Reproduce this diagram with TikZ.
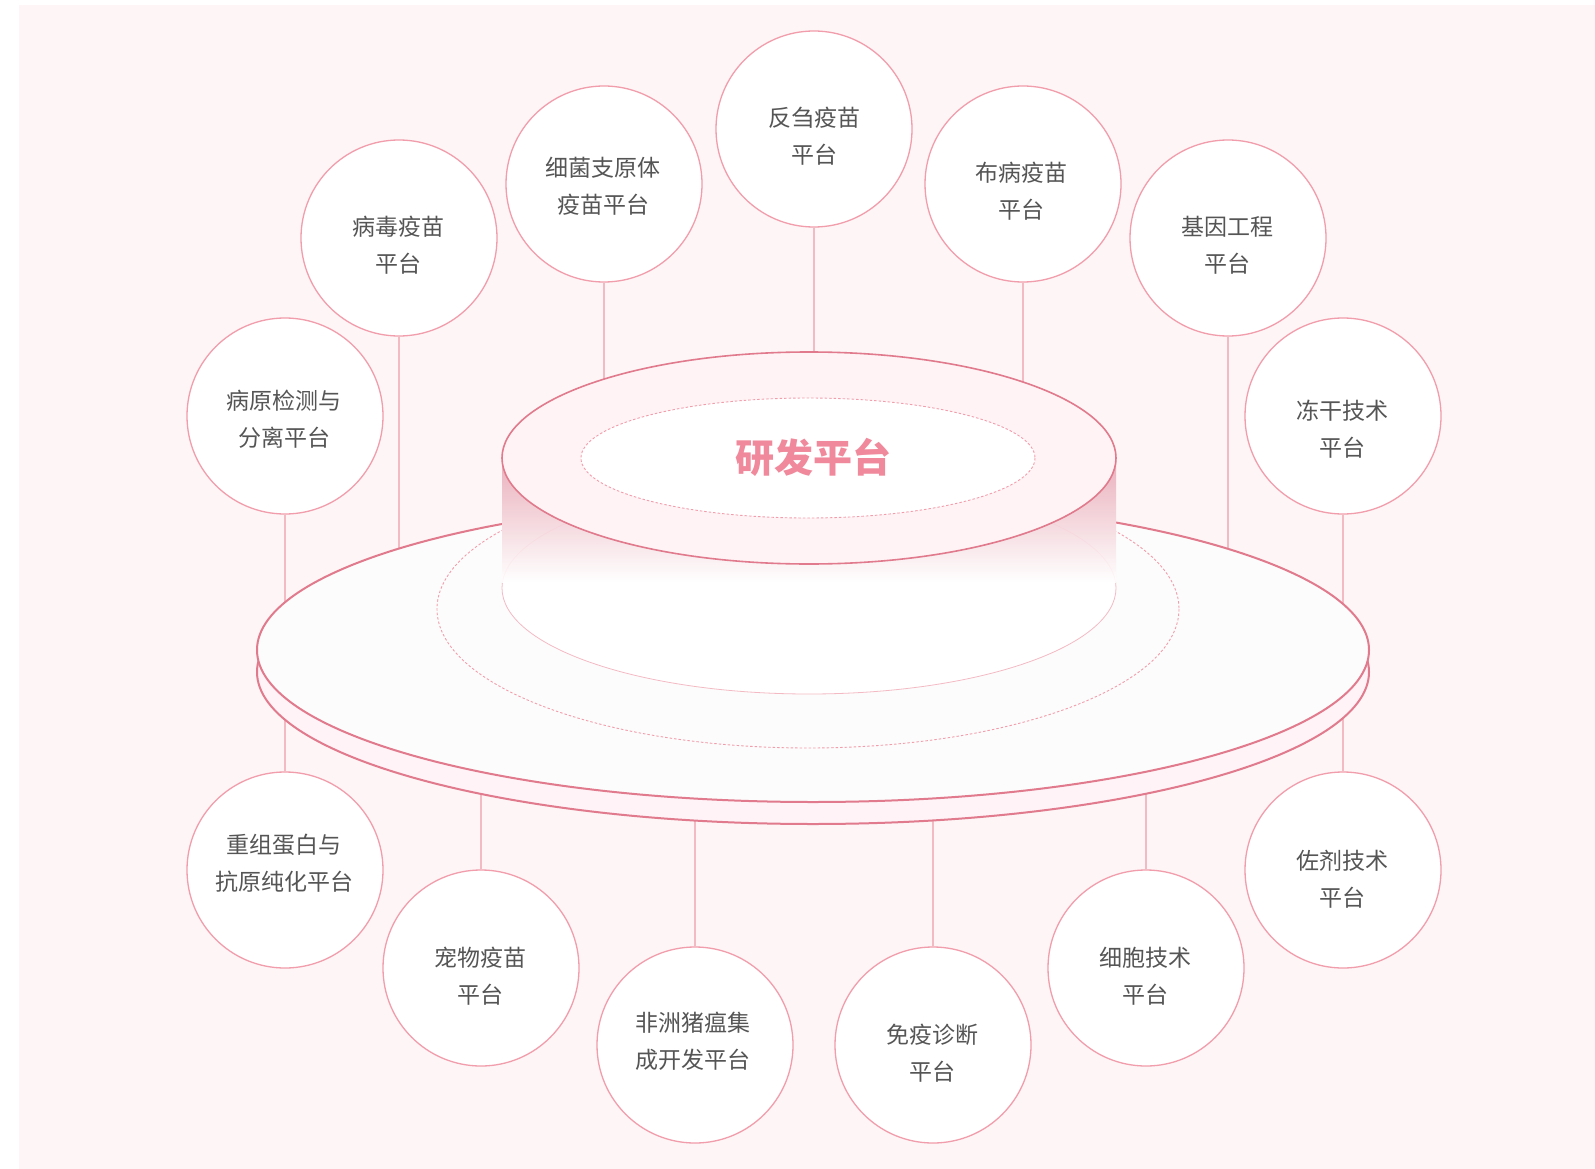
\documentclass[tikz,border=0pt]{standalone}
\usepackage{fontspec}
\setmainfont{Noto Sans CJK SC}
\usepackage{tikz}
\usetikzlibrary{positioning,calc}
\usepackage{xcolor}
\definecolor{paper}{HTML}{FDF5F6}
\definecolor{rim}{HTML}{E07A8C}
\definecolor{ring}{HTML}{F29DAC}
\definecolor{line}{HTML}{F4BAC4}
\definecolor{ink}{HTML}{555555}
\definecolor{title}{HTML}{F0899B}
\definecolor{band}{HTML}{FFF3F7}
\definecolor{deck}{HTML}{FCFCFC}
\definecolor{face}{HTML}{FFF3F5}
\definecolor{glow}{HTML}{E8A7B4}
\tikzset{
  unit/.style={circle,draw=ring,line width=1.3pt,fill=white,minimum size=196pt,inner sep=0pt},
  unittext/.style={font=\fontsize{23}{37}\selectfont,text=ink,align=center,inner sep=0pt},
  link/.style={draw=line,line width=1.3pt},
  rimline/.style={draw=rim,line width=2pt},
  dots/.style={draw=ring,line width=0.9pt,dash pattern=on 2.5pt off 2pt},
  hubtext/.style={font=\fontsize{39}{39}\selectfont\bfseries,text=title,inner sep=0pt}
}
\begin{document}
\begin{tikzpicture}[x=1pt,y=-1pt]
\useasboundingbox (0,0) rectangle (1595,1169);
\fill[white] (0,0) rectangle (1595,1169);
\fill[paper] (19,5) rectangle (1595,1169);

% platform anchors
\coordinate (deck) at (813,650);
\coordinate (base) at (813,672);
\coordinate (drum) at (809,588);
\coordinate (top) at (809,458);

% upper ring of platforms
\node[unit] (fanchu) at (814,129) {};
\node[unit] (xijun) at (604,184) {};
\node[unit] (bubing) at (1023,184) {};
\node[unit] (bingdu) at (399,238) {};
\node[unit] (jiyin) at (1228,238) {};
\node[unit] (bingyuan) at (285,416) {};
\node[unit] (donggan) at (1343,416) {};
% lower ring of platforms
\node[unit] (chongzu) at (285,870) {};
\node[unit] (zuoji) at (1343,870) {};
\node[unit] (chongwu) at (481,968) {};
\node[unit] (xibao) at (1146,968) {};
\node[unit] (feizhou) at (695,1045) {};
\node[unit] (mianyi) at (933,1045) {};

\node[unittext] (fanchu-t) at (814,136) {反刍疫苗\\平台};
\node[unittext] (xijun-t) at (603,186) {细菌支原体\\疫苗平台};
\node[unittext] (bubing-t) at (1021,191) {布病疫苗\\平台};
\node[unittext] (bingdu-t) at (398,245) {病毒疫苗\\平台};
\node[unittext] (jiyin-t) at (1227,245) {基因工程\\平台};
\node[unittext] (bingyuan-t) at (284,419) {病原检测与\\分离平台};
\node[unittext] (donggan-t) at (1342,429) {冻干技术\\平台};
\node[unittext] (chongzu-t) at (284,863) {重组蛋白与\\抗原纯化平台};
\node[unittext] (zuoji-t) at (1342,879) {佐剂技术\\平台};
\node[unittext] (chongwu-t) at (480,976) {宠物疫苗\\平台};
\node[unittext] (xibao-t) at (1145,976) {细胞技术\\平台};
\node[unittext] (feizhou-t) at (693,1041) {非洲猪瘟集\\成开发平台};
\node[unittext] (mianyi-t) at (932,1053) {免疫诊断\\平台};

% connectors, covered by the platform
\draw[link] (fanchu.south) -- (fanchu.south |- top);
\draw[link] (xijun.south) -- (xijun.south |- top);
\draw[link] (bubing.south) -- (bubing.south |- top);
\draw[link] (bingdu.south) -- (bingdu.south |- deck);
\draw[link] (jiyin.south) -- (jiyin.south |- deck);
\draw[link] (bingyuan.south) -- (bingyuan.south |- deck);
\draw[link] (donggan.south) -- (donggan.south |- deck);
\draw[link] (chongzu.north) -- (chongzu.north |- base);
\draw[link] (zuoji.north) -- (zuoji.north |- base);
\draw[link] (chongwu.north) -- (chongwu.north |- base);
\draw[link] (xibao.north) -- (xibao.north |- base);
\draw[link] (feizhou.north) -- (feizhou.north |- base);
\draw[link] (mianyi.north) -- (mianyi.north |- base);

% lower disc
\path[fill=band,rimline] (base) ellipse [x radius=556, y radius=152];
\path[fill=deck,rimline] (deck) ellipse [x radius=556, y radius=152];
\draw[dots] (808,609) ellipse [x radius=371, y radius=139];

% drum
\fill[white] (502,458) rectangle (1116,588);
\fill[white] (drum) ellipse [x radius=307, y radius=106];
\draw[line,line width=0.8pt] (drum) ellipse [x radius=307, y radius=106];
\shade[top color=glow,bottom color=white,fill opacity=0.9] (502,458) rectangle (1116,582);

% upper disc
\path[fill=face,draw=rim,line width=1.6pt] (top) ellipse [x radius=307, y radius=106];
\path[fill=white,dots] (808,458) ellipse [x radius=227, y radius=60];
\node[hubtext] (hub) at (813,457) {研发平台};
\end{tikzpicture}
\end{document}
